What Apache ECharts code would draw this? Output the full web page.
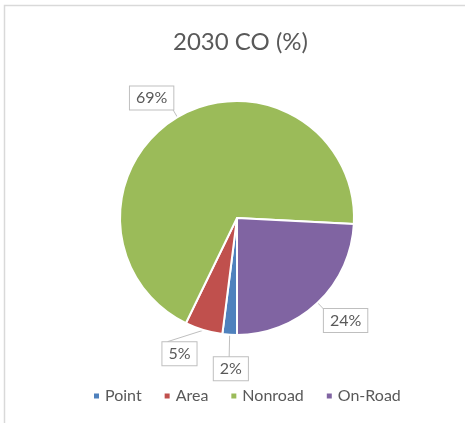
<!DOCTYPE html>
<html>
<head>
<meta charset="utf-8">
<script src="https://cdn.jsdelivr.net/npm/echarts@6/dist/echarts.min.js"></script>
<style>html,body{margin:0;padding:0;background:#fff;}#c{width:465px;height:423px;}</style>
</head>
<body>
<div id="c"></div>
<script>
const titleText = '2030 CO (%)';
const categories = ['Point', 'Area', 'Nonroad', 'On-Road'];
const values = [2.0, 5.2, 68.6, 24.2];
const colors = ['#4f81bd', '#c0504d', '#9bbb59', '#8064a2'];

const labelShift = [[24, 0], [34, 12], [7, -9], [-7, 9]];

const chart = echarts.init(document.getElementById('c'), null, {renderer: 'canvas'});
const font = 'Lato, "Open Sans", sans-serif';
chart.setOption({
  animation: false,
  backgroundColor: '#fff',
  title: {
    text: titleText,
    left: 168,
    top: 25,
    textStyle: {fontFamily: font, fontSize: 24, fontWeight: 'normal', color: '#595959'}
  },
  legend: {
    data: categories,
    bottom: 14,
    left: 87,
    icon: 'rect',
    itemWidth: 7,
    itemHeight: 7,
    itemGap: 21,
    textStyle: {fontFamily: font, fontSize: 16, color: '#595959'}
  },
  graphic: [{
    type: 'rect',
    shape: {x: 4.5, y: 5.5, width: 600, height: 600},
    style: {fill: 'none', stroke: '#d9d9d9', lineWidth: 1.5},
    silent: true
  }],
  series: [{
    type: 'pie',
    center: [237, 218],
    radius: 117,
    startAngle: -90,
    clockwise: true,
    data: categories.map((c, i) => ({name: c, value: values[i], itemStyle: {color: colors[i]}})),
    itemStyle: {borderColor: '#fff', borderWidth: 2},
    label: {
      show: true,
      position: 'outside',
      formatter: p => Math.round(p.value) + '%',
      fontFamily: font,
      fontSize: 16,
      color: '#595959',
      backgroundColor: '#fff',
      borderColor: '#bfbfbf',
      borderWidth: 1,
      padding: [4, 6, 3, 6]
    },
    labelLine: {show: true, length: 12, length2: 0, lineStyle: {color: '#bfbfbf', width: 1}},
    labelLayout: p => ({dx: labelShift[p.dataIndex][0], dy: labelShift[p.dataIndex][1]})
  }]
});
</script>
</body>
</html>
